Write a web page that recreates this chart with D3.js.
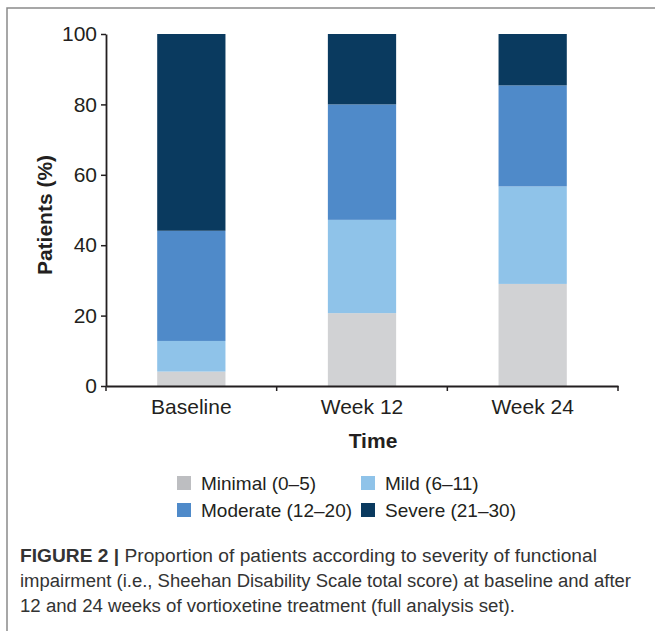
<!DOCTYPE html>
<html><head><meta charset="utf-8">
<script src="https://cdn.jsdelivr.net/npm/d3@7"></script>
<style>body{margin:0;background:#fff}svg{display:block}</style>
</head><body>
<script>
const categories = ["Baseline", "Week 12", "Week 24"];
const seriesNames = ["Minimal (0–5)", "Mild (6–11)", "Moderate (12–20)", "Severe (21–30)"];
const minimal = [4.1, 20.7, 29.0];
const mild = [8.7, 26.5, 27.7];
const moderate = [31.3, 32.8, 28.7];
const severe = [55.9, 20.0, 14.6];
const yTicks = [0, 20, 40, 60, 80, 100];
const colors = ["#d1d2d4", "#8fc3e9", "#4f8ac9", "#0a3a5f"];
const legendColors = ["#bdbec1", "#8fc3e9", "#4f8ac9", "#0a3a5f"];
const captionBold = "FIGURE 2 |";
const captionLines = [
  " Proportion of patients according to severity of functional",
  "impairment (i.e., Sheehan Disability Scale total score) at baseline and after",
  "12 and 24 weeks of vortioxetine treatment (full analysis set)."
];

const W = 655, H = 631;
const svg = d3.select("body").append("svg").attr("width", W).attr("height", H)
  .style("font-family", "'Liberation Sans', Arial, Helvetica, sans-serif");
svg.append("rect").attr("width", W).attr("height", H).attr("fill", "#fff");
svg.append("path").attr("d", `M${W},8H7V${H}`).attr("fill", "none")
  .attr("stroke", "#8a8a8a").attr("stroke-width", 1.5);

const x0 = 106, x1 = 618, y0 = 386, y1 = 34;
const x = d3.scaleBand().domain(categories).range([x0, x1]).paddingInner(0.6).paddingOuter(0.3);
const y = d3.scaleLinear().domain([0, 100]).range([y0, y1]);

const table = categories.map((c, i) => ({cat: c, s0: minimal[i], s1: mild[i], s2: moderate[i], s3: severe[i]}));
const stack = d3.stack().keys(["s0", "s1", "s2", "s3"])(table);

svg.append("g").selectAll("g").data(stack).join("g")
  .attr("fill", (d, i) => colors[i])
  .selectAll("rect").data(d => d).join("rect")
  .attr("x", d => x(d.data.cat))
  .attr("width", x.bandwidth())
  .attr("y", d => y(d[1]))
  .attr("height", d => y(d[0]) - y(d[1]));

const ink = "#231f20";
// y axis
const ya = svg.append("g").attr("transform", `translate(${x0},0)`)
  .call(d3.axisLeft(y).tickValues(yTicks).tickSize(5).tickPadding(4).tickSizeOuter(0));
ya.attr("font-family", null);
ya.select(".domain").attr("stroke", ink).attr("stroke-width", 1.8);
ya.selectAll(".tick line").attr("stroke", ink).attr("stroke-width", 1.5);
ya.selectAll(".tick text").attr("fill", ink).attr("font-size", 21);

// x axis with ticks at band boundaries
const xa = svg.append("g").attr("transform", `translate(0,${y0})`)
  .call(d3.axisBottom(x).tickSize(0).tickPadding(13));
xa.attr("font-family", null);
xa.select(".domain").attr("stroke", ink).attr("stroke-width", 1.8);
xa.selectAll(".tick text").attr("fill", ink).attr("font-size", 21);
const step = x.step();
const bounds = [x0].concat(categories.map(c => x(c) + x.bandwidth() / 2 + step / 2));
xa.selectAll(".bound").data(bounds).join("line").attr("class", "bound")
  .attr("x1", d => d).attr("x2", d => d).attr("y1", 0).attr("y2", 5)
  .attr("stroke", ink).attr("stroke-width", 1.5);

svg.append("text").attr("transform", "translate(52,215) rotate(-90)")
  .attr("text-anchor", "middle").attr("font-weight", "bold").attr("font-size", 21)
  .attr("fill", ink).text("Patients (%)");
svg.append("text").attr("x", 373).attr("y", 448).attr("text-anchor", "middle")
  .attr("font-weight", "bold").attr("font-size", 21).attr("fill", ink).text("Time");

// legend
const lg = svg.append("g");
const lpos = [[177, 476], [361, 476], [177, 503], [361, 503]];
seriesNames.forEach((n, i) => {
  lg.append("rect").attr("x", lpos[i][0]).attr("y", lpos[i][1]).attr("width", 14).attr("height", 14)
    .attr("fill", legendColors[i]);
  lg.append("text").attr("x", lpos[i][0] + 24).attr("y", lpos[i][1] + 13.5)
    .attr("font-size", 19).attr("fill", ink).text(n);
});

// caption
const cap = svg.append("g").attr("fill", "#333").attr("font-size", 18);
const lineEnds = [597, 631, 515];
const baselines = [562, 587, 612];
captionLines.forEach((l, i) => {
  const t = cap.append("text").attr("x", 20).attr("y", baselines[i]);
  if (i === 0) {
    t.append("tspan").attr("font-weight", "bold").text(captionBold);
  }
  t.append("tspan").text(l);
  t.attr("textLength", lineEnds[i] - 20).attr("lengthAdjust", "spacingAndGlyphs");
});
</script>
</body></html>
